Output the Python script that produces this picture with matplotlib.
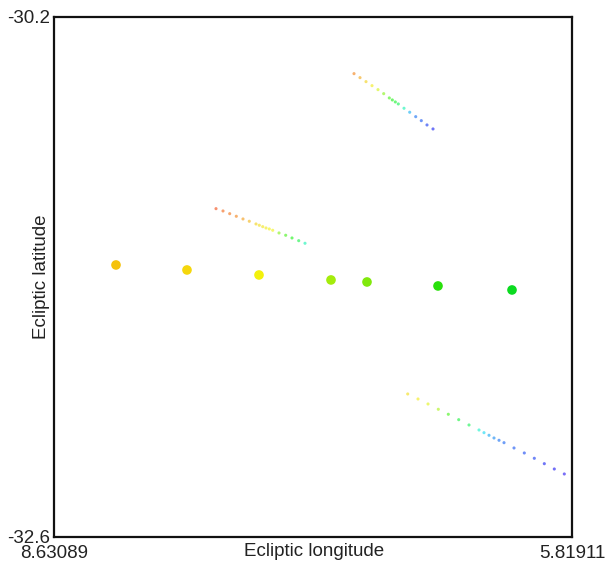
import colorsys
import matplotlib
matplotlib.use("Agg")
import matplotlib.pyplot as plt

# big dots (one per epoch)
big_lon = [8.2943, 7.9090, 7.5181, 7.1273, 6.9319, 6.5465, 6.1448]
big_lat = [-31.3446, -31.3677, -31.3908, -31.4138, -31.4231, -31.4415, -31.4600]
big_hue = [0.13, 0.145, 0.165, 0.22, 0.245, 0.31, 0.35]

# three tracks of small dots
t1_lon = [7.0024, 6.9699, 6.9373, 6.9047, 6.8722, 6.8412, 6.8108, 6.7945,
          6.7782, 6.7620, 6.7310, 6.7001, 6.6675, 6.6371, 6.6062, 6.5736]
t1_lat = [-30.4617, -30.4802, -30.4986, -30.5171, -30.5355, -30.5540, -30.5738, -30.5831,
          -30.5923, -30.6015, -30.6214, -30.6398, -30.6602, -30.6786, -30.6985, -30.7169]
t1_hue = [0.08, 0.11, 0.14, 0.16, 0.19, 0.25, 0.30, 0.33,
          0.35, 0.38, 0.45, 0.55, 0.60, 0.62, 0.64, 0.66]

t2_lon = [7.7515, 7.7135, 7.6772, 7.6413, 7.6050, 7.5708, 7.5344, 7.5165, 7.4980,
          7.4801, 7.4622, 7.4437, 7.4095, 7.3732, 7.3390, 7.3026, 7.2684]
t2_lat = [-31.0848, -31.0954, -31.1079, -31.1199, -31.1323, -31.1429, -31.1554, -31.1614, -31.1679,
          -31.1739, -31.1785, -31.1845, -31.1969, -31.2075, -31.2200, -31.2325, -31.2445]
t2_hue = [0.04, 0.06, 0.07, 0.08, 0.10, 0.12, 0.14, 0.15, 0.155,
          0.16, 0.165, 0.17, 0.25, 0.30, 0.33, 0.37, 0.45]

t3_lon = [6.7109, 6.6550, 6.6007, 6.5448, 6.4905, 6.4341, 6.3782, 6.3239, 6.2968, 6.2696,
          6.2425, 6.2153, 6.1882, 6.1339, 6.0780, 6.0237, 5.9694, 5.9152, 5.8609]
t3_lat = [-31.9400, -31.9631, -31.9862, -32.0106, -32.0337, -32.0586, -32.0831, -32.1062, -32.1186, -32.1306,
          -32.1431, -32.1537, -32.1648, -32.1892, -32.2123, -32.2368, -32.2617, -32.2862, -32.3092]
t3_hue = [0.15, 0.16, 0.18, 0.22, 0.30, 0.36, 0.38, 0.47, 0.52, 0.56,
          0.58, 0.60, 0.61, 0.62, 0.63, 0.64, 0.66, 0.67, 0.68]

plt.rcParams["font.family"] = ["Liberation Sans", "DejaVu Sans"]

fig = plt.figure(figsize=(6.08, 5.61), dpi=100)
ax = fig.add_axes([0.0888, 0.0428, 0.852, 0.927])


def hues(h, s, v, dim=0.0):
    return [colorsys.hsv_to_rgb(x, s, v - dim * max(x - 0.15, 0)) for x in h]


for lon, lat, hue in [(t1_lon, t1_lat, t1_hue), (t2_lon, t2_lat, t2_hue), (t3_lon, t3_lat, t3_hue)]:
    ax.scatter(lon, lat, s=5, marker="o", c=hues(hue, 0.55, 0.97), linewidths=0)

ax.scatter(big_lon, big_lat, s=48, c=hues(big_hue, 0.95, 0.96, dim=0.5), linewidths=0)

ax.set_xlim(8.63089, 5.81911)
ax.set_ylim(-32.6, -30.2)
ax.set_xticks([8.63089, 5.81911])
ax.set_xticklabels(["8.63089", "5.81911"])
ax.set_yticks([-32.6, -30.2])
ax.set_yticklabels(["-32.6", "-30.2"])
ax.tick_params(length=0, labelsize=13.5, labelcolor="#222222")
ax.tick_params(axis="x", pad=6)
ax.tick_params(axis="y", pad=2.5)
ax.set_xlabel("Ecliptic longitude", fontsize=13.5, color="#222222")
ax.set_ylabel("Ecliptic latitude", fontsize=13.5, color="#222222")
ax.xaxis.set_label_coords(0.502, -0.028)
ax.xaxis.label.set_va("center")
ax.yaxis.set_label_coords(-0.025, 0.50)
ax.yaxis.label.set_va("center")
for sp in ax.spines.values():
    sp.set_linewidth(1.6)
    sp.set_color("#111111")

fig.savefig("out.png", dpi=100)
